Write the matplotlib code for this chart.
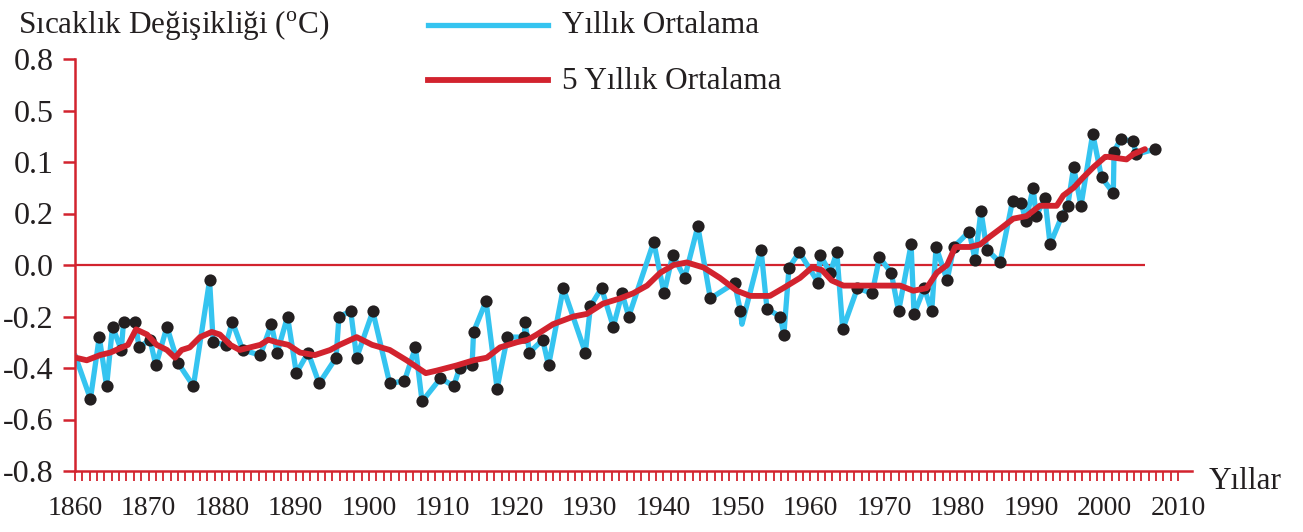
import matplotlib
matplotlib.use('Agg')
import matplotlib.pyplot as plt
from matplotlib.lines import Line2D
import numpy as np

# yillik ortalama sicaklik degisimi (noktali seri)
yil = [1862.1, 1863.3, 1864.3, 1865.1, 1866.3, 1866.6, 1868.2, 1868.7, 1870.2, 1871.0,
       1872.5, 1874.0, 1876.1, 1878.3, 1878.8, 1880.5, 1881.4, 1882.8, 1885.2, 1886.7,
       1887.5, 1888.9, 1890.1, 1891.7, 1893.2, 1895.5, 1895.9, 1897.5, 1898.3, 1900.5,
       1902.8, 1904.8, 1906.3, 1907.2, 1909.7, 1911.5, 1912.3, 1914.0, 1914.2, 1915.9,
       1917.4, 1918.8, 1921.1, 1921.2, 1921.8, 1923.6, 1924.4, 1926.4, 1929.4, 1930.1,
       1931.6, 1933.2, 1934.4, 1935.3, 1938.7, 1940.1, 1941.3, 1942.9, 1944.7, 1946.4,
       1949.7, 1950.5, 1953.3, 1954.1, 1955.9, 1956.4, 1957.1, 1958.5, 1961.1, 1961.3,
       1962.7, 1963.6, 1964.4, 1966.4, 1968.4, 1969.4, 1971.0, 1972.0, 1973.7, 1974.1,
       1975.5, 1976.5, 1977.1, 1978.6, 1979.5, 1981.6, 1982.4, 1983.2, 1984.0, 1985.8,
       1987.5, 1988.7, 1989.3, 1990.3, 1990.7, 1991.9, 1992.6, 1994.2, 1995.0, 1995.8,
       1996.8, 1998.4, 1999.6, 2001.2, 2001.3, 2002.2, 2003.9, 2004.3, 2006.9]
sicaklik = [-0.52, -0.28, -0.47, -0.24, -0.33, -0.22, -0.22, -0.32, -0.29, -0.39,
            -0.24, -0.38, -0.47, -0.06, -0.30, -0.31, -0.22, -0.33, -0.35, -0.23,
            -0.34, -0.20, -0.42, -0.34, -0.46, -0.36, -0.20, -0.18, -0.36, -0.18,
            -0.46, -0.45, -0.32, -0.53, -0.44, -0.47, -0.40, -0.39, -0.26, -0.14,
            -0.48, -0.28, -0.28, -0.22, -0.34, -0.29, -0.39, -0.09, -0.34, -0.16,
            -0.09, -0.24, -0.11, -0.20, 0.09, -0.11, 0.04, -0.05, 0.15, -0.13,
            -0.07, -0.18, 0.06, -0.17, -0.20, -0.27, -0.01, 0.05, -0.07, 0.04,
            -0.03, 0.05, -0.25, -0.09, -0.11, 0.03, -0.03, -0.18, 0.08, -0.19,
            -0.09, -0.18, 0.07, -0.06, 0.07, 0.13, 0.02, 0.21, 0.06, 0.01,
            0.25, 0.24, 0.17, 0.30, 0.19, 0.26, 0.08, 0.19, 0.23, 0.38,
            0.23, 0.51, 0.34, 0.28, 0.44, 0.49, 0.48, 0.43, 0.45]

# cizginin noktasiz kirilma yerleri
ara_yil = [1860.0, 1950.7]
ara_deger = [-0.35, -0.23]

# 5 yillik ortalama
ort_yil = [1860.1, 1861.6, 1863.4, 1864.8, 1866.4, 1867.2, 1868.3, 1869.8, 1871.1, 1872.5,
           1873.6, 1874.5, 1875.6, 1877.0, 1878.6, 1879.7, 1881.1, 1882.4, 1883.8, 1885.2,
           1886.3, 1887.4, 1889.0, 1890.6, 1892.6, 1894.7, 1896.0, 1898.3, 1900.4, 1902.8,
           1905.1, 1907.7, 1909.2, 1911.9, 1914.2, 1916.0, 1917.8, 1920.1, 1921.6, 1922.8,
           1925.0, 1927.8, 1929.6, 1931.8, 1934.1, 1935.9, 1937.8, 1939.6, 1941.4, 1943.2,
           1945.5, 1947.7, 1950.0, 1951.8, 1954.5, 1956.3, 1958.6, 1960.2, 1961.6, 1962.9,
           1964.5, 1966.8, 1969.9, 1972.2, 1974.0, 1975.8, 1977.2, 1978.6, 1979.7, 1981.7,
           1983.1, 1984.4, 1985.8, 1987.6, 1989.4, 1991.2, 1993.5, 1994.4, 1995.8, 1997.1,
           1998.5, 2000.1, 2000.5, 2003.0, 2003.9, 2005.5]
ort_deger = [-0.36, -0.37, -0.35, -0.34, -0.32, -0.31, -0.25, -0.27, -0.31, -0.33,
             -0.36, -0.33, -0.32, -0.28, -0.26, -0.27, -0.31, -0.33, -0.32, -0.31,
             -0.29, -0.30, -0.31, -0.34, -0.35, -0.33, -0.31, -0.28, -0.31, -0.33,
             -0.37, -0.42, -0.41, -0.39, -0.37, -0.36, -0.32, -0.30, -0.29, -0.27,
             -0.23, -0.20, -0.19, -0.15, -0.13, -0.11, -0.08, -0.03, 0.00, 0.01,
             -0.01, -0.05, -0.10, -0.12, -0.12, -0.09, -0.05, -0.01, -0.02, -0.06,
             -0.08, -0.08, -0.08, -0.08, -0.10, -0.09, -0.03, 0.00, 0.07, 0.07,
             0.08, 0.11, 0.14, 0.18, 0.19, 0.23, 0.23, 0.27, 0.30, 0.34,
             0.38, 0.42, 0.42, 0.41, 0.43, 0.45]

y_ticks = [0.8, 0.6, 0.4, 0.2, 0.0, -0.2, -0.4, -0.6, -0.8]
y_etiket = ['0.8', '0.5', '0.1', '0.2', '0.0', '-0.2', '-0.4', '-0.6', '-0.8']
x_ticks = list(range(1860, 2011, 10))

MAVI = '#35c4f0'
KIRMIZI = '#d2232e'
SIYAH = '#231f20'

plt.rcParams['font.family'] = 'Liberation Serif'
plt.rcParams['mathtext.fontset'] = 'custom'
plt.rcParams['mathtext.rm'] = 'Liberation Serif'

W, H = 1303, 532
fig = plt.figure(figsize=(W / 100, H / 100), dpi=100)
ax = fig.add_axes([75 / W, (H - 471) / H, 1117 / W, 412 / H])

# mavi cizgi: noktalar + ara kirilmalar yil sirasina gore
cizgi_x = np.concatenate([yil, ara_yil])
cizgi_y = np.concatenate([sicaklik, ara_deger])
sira = np.argsort(cizgi_x)

ax.hlines(0, 1860, 2005.5, color=KIRMIZI, lw=1.6, zorder=1)
ax.plot(cizgi_x[sira], cizgi_y[sira], color=MAVI, lw=3.8,
        solid_joinstyle='round', solid_capstyle='round', zorder=2)
ax.plot(yil, sicaklik, 'o', color=SIYAH, ms=8.8, mew=0, zorder=3)
ax.plot(ort_yil, ort_deger, color=KIRMIZI, lw=4.2,
        solid_joinstyle='round', solid_capstyle='round', zorder=4)

ax.set_xlim(1860, 2011.9)
ax.set_ylim(-0.8, 0.8)

for s in ['top', 'right']:
    ax.spines[s].set_visible(False)
for s in ['left', 'bottom']:
    ax.spines[s].set_color(KIRMIZI)
    ax.spines[s].set_linewidth(1.8)

ax.set_yticks(y_ticks)
ax.set_yticklabels(y_etiket)
ax.set_xticks(x_ticks)
ax.set_xticklabels([str(t) for t in x_ticks])
ax.set_xticks(range(1860, 2011), minor=True)

ax.tick_params(axis='y', direction='out', length=8.6, width=1.8, color=KIRMIZI,
               labelsize=23, pad=7, labelcolor=SIYAH)
ax.tick_params(axis='x', which='both', direction='out', length=7, width=1.3, color=KIRMIZI,
               labelsize=20, pad=11, labelcolor=SIYAH)

fig.text(18 / W, 1 - 33 / H, 'Sıcaklık Değişikliği ($^{\\mathrm{o}}$C)', fontsize=22.5,
         color=SIYAH, ha='left', va='baseline')

# lejant
fig.add_artist(Line2D([428 / W, 548 / W], [1 - 25 / H, 1 - 25 / H], color=MAVI, lw=3.8))
fig.add_artist(Line2D([428 / W, 548 / W], [1 - 80 / H, 1 - 80 / H], color=KIRMIZI, lw=4.2))
fig.text(562 / W, 1 - 33 / H, 'Yıllık Ortalama', fontsize=22.5, color=SIYAH, va='baseline')
fig.text(562 / W, 1 - 89 / H, '5 Yıllık Ortalama', fontsize=22.5, color=SIYAH, va='baseline')

fig.text(1209 / W, 1 - 489 / H, 'Yıllar', fontsize=22.5, color=SIYAH, va='baseline')

fig.savefig('out.png', dpi=100)
